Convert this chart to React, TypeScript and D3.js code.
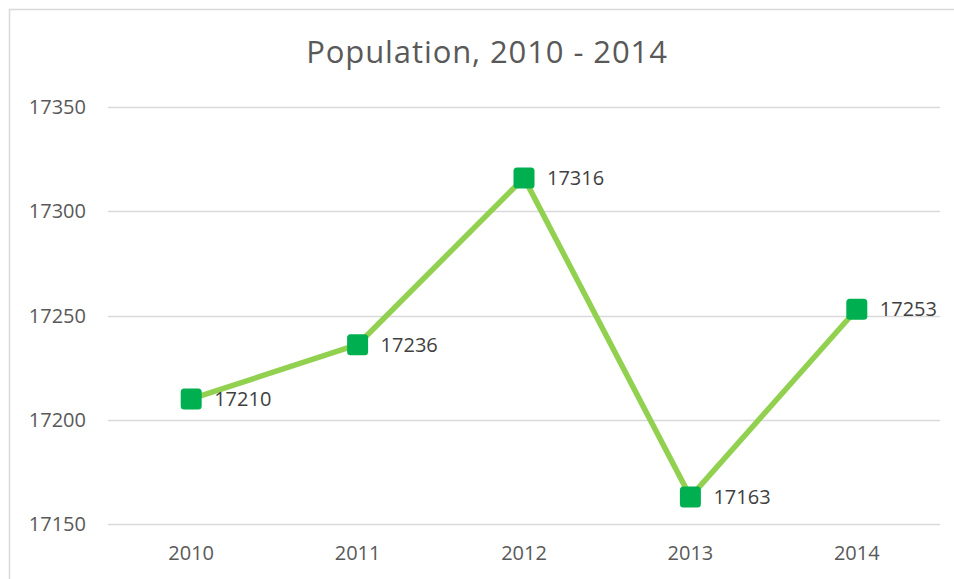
import React, { useEffect, useRef } from "react";
import * as d3 from "d3";

const years = ["2010", "2011", "2012", "2013", "2014"];
const population = [17210, 17236, 17316, 17163, 17253];
const yTicks = [17150, 17200, 17250, 17300, 17350];
const chartTitle = "Population, 2010 - 2014";

export default function App() {
    const svgRef = useRef<SVGSVGElement>(null);

    useEffect(() => {
        document.body.style.margin = "0";
        const width = 954, height = 579;
        const font = "'Open Sans', 'Noto Sans', sans-serif";

        const svg = d3.select(svgRef.current)
            .attr("width", width)
            .attr("height", height);
        svg.selectAll("*").remove();

        svg.append("rect")
            .attr("width", width)
            .attr("height", height)
            .attr("fill", "#ffffff");

        // chart area border (only top and left visible)
        svg.append("path")
            .attr("d", "M9.5," + height + "V9.5H" + width)
            .attr("fill", "none")
            .attr("stroke", "#d9d9d9")
            .attr("stroke-width", 1.5);

        const x = d3.scalePoint<string>()
            .domain(years)
            .range([108, 940])
            .padding(0.5);

        const y = d3.scaleLinear()
            .domain([17150, 17350])
            .range([524, 107]);

        // title
        svg.append("text")
            .attr("x", 487)
            .attr("y", 63)
            .attr("text-anchor", "middle")
            .style("font-family", font)
            .style("font-size", "31px")
            .style("letter-spacing", "0.9px")
            .style("fill", "#595959")
            .text(chartTitle);

        // gridlines
        svg.append("g")
            .selectAll("line")
            .data(yTicks)
            .join("line")
            .attr("x1", 108)
            .attr("x2", 940)
            .attr("y1", d => Math.round(y(d)) + 0.5)
            .attr("y2", d => Math.round(y(d)) + 0.5)
            .style("stroke", "#d9d9d9")
            .style("stroke-width", 1.5);

        // y axis labels
        svg.append("g")
            .selectAll("text")
            .data(yTicks)
            .join("text")
            .attr("x", 86)
            .attr("y", d => y(d))
            .attr("dy", "0.35em")
            .attr("text-anchor", "end")
            .style("font-family", font)
            .style("font-size", "20px")
            .style("fill", "#595959")
            .text(d => d);

        // x axis labels
        svg.append("g")
            .selectAll("text")
            .data(years)
            .join("text")
            .attr("x", d => x(d) as number)
            .attr("y", 553)
            .attr("dy", "0.35em")
            .attr("text-anchor", "middle")
            .style("font-family", font)
            .style("font-size", "20px")
            .style("fill", "#595959")
            .text(d => d);

        const pts = years.map((yr, i) => ({ yr, v: population[i] }));

        const line = d3.line<{ yr: string; v: number }>()
            .x(d => x(d.yr) as number)
            .y(d => y(d.v));

        svg.append("path")
            .attr("d", line(pts))
            .attr("fill", "none")
            .attr("stroke", "#92d050")
            .attr("stroke-width", 5.5)
            .attr("stroke-linejoin", "round");

        // markers
        const size = 21;
        svg.append("g")
            .selectAll("rect")
            .data(pts)
            .join("rect")
            .attr("x", d => (x(d.yr) as number) - size / 2)
            .attr("y", d => y(d.v) - size / 2)
            .attr("width", size)
            .attr("height", size)
            .attr("rx", 3.5)
            .attr("fill", "#00b050");

        // data labels
        svg.append("g")
            .selectAll("text")
            .data(pts)
            .join("text")
            .attr("x", d => (x(d.yr) as number) + 23)
            .attr("y", d => y(d.v))
            .attr("dy", "0.35em")
            .style("font-family", font)
            .style("font-size", "20px")
            .style("fill", "#404040")
            .text(d => d.v);
    }, []);

    return (
        <div>
            <svg ref={svgRef}></svg>
        </div>
    );
}
